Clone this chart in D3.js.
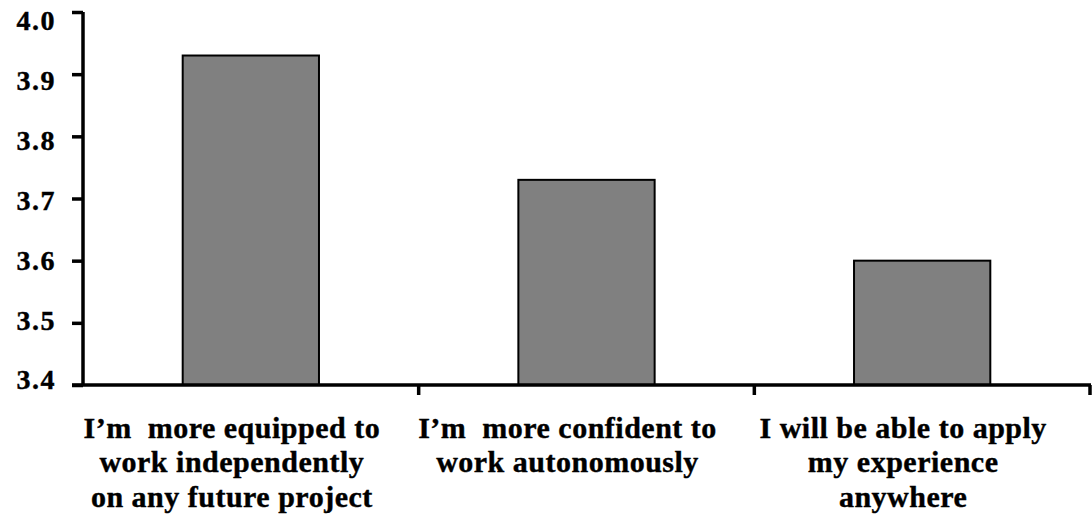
<!DOCTYPE html>
<html>
<head>
<meta charset="utf-8">
<script src="https://cdn.jsdelivr.net/npm/d3@7"></script>
<style>
  html, body { margin: 0; padding: 0; background: #fff; }
  svg { display: block; }
  text { font-family: "Liberation Serif", "Times New Roman", serif; font-weight: bold; fill: #000; }
</style>
</head>
<body>
<svg id="chart" width="1092" height="516"></svg>
<script>
// Survey statements (one per bar), each wrapped onto display lines
const categories = [
  "I’m more equipped to work independently on any future project",
  "I’m more confident to work autonomously",
  "I will be able to apply my experience anywhere"
];
const labelLines = [
  ["I’m  more equipped to", "work independently", "on any future project"],
  ["I’m  more confident to", "work autonomously"],
  ["I will be able to apply", "my experience", "anywhere"]
];
// Mean agreement score per statement
const values = [3.93, 3.73, 3.60];
// Value axis ticks
const yTicks = [3.4, 3.5, 3.6, 3.7, 3.8, 3.9, 4.0];
const yTickLabels = ["3.4", "3.5", "3.6", "3.7", "3.8", "3.9", "4.0"];

const svg = d3.select("#chart");
const plotLeft = 83, plotRight = 1090, plotTop = 12, plotBottom = 385;

const x = d3.scaleBand()
  .domain(categories)
  .range([plotLeft, plotRight])
  .paddingInner(0.594)
  .paddingOuter(0.297);

const y = d3.scaleLinear()
  .domain([3.4, 4.0])
  .range([plotBottom, plotTop]);

// Tick labels sit on a slightly tighter ladder than the tick marks
const yLabel = d3.scaleLinear()
  .domain([3.4, 4.0])
  .range([380, 21]);

// Bars
svg.append("g")
  .selectAll("rect")
  .data(values)
  .join("rect")
  .attr("x", (d, i) => x(categories[i]))
  .attr("y", d => y(d))
  .attr("width", x.bandwidth())
  .attr("height", d => y(3.4) - y(d))
  .attr("fill", "#808080")
  .attr("stroke", "#000")
  .attr("stroke-width", 2);

// Y axis
const yAxis = d3.axisLeft(y)
  .tickValues(yTicks)
  .tickFormat((d, i) => yTickLabels[i])
  .tickSize(11)
  .tickPadding(16);

const gy = svg.append("g")
  .attr("transform", `translate(${plotLeft},0)`)
  .call(yAxis);
gy.select(".domain").attr("stroke", "#000").attr("stroke-width", 3.5)
  .attr("d", `M0,${plotTop}V${plotBottom}`);
gy.selectAll(".tick line").attr("stroke", "#000").attr("stroke-width", 3.5);
gy.selectAll(".tick text")
  .attr("y", d => yLabel(d) - y(d))
  .style("font-family", "'Liberation Serif', 'Times New Roman', serif")
  .style("font-weight", "bold")
  .style("font-size", "28px")
  .style("letter-spacing", "1.5px")
  .attr("fill", "#000")
  .attr("stroke", "#000")
  .attr("stroke-width", 0.4);

// X axis with ticks at category boundaries
const boundaries = categories.map(c => x(c) + x.bandwidth() / 2 + x.step() / 2);
const gx = svg.append("g");
gx.append("line")
  .attr("x1", plotLeft - 11).attr("x2", plotRight + 1)
  .attr("y1", plotBottom).attr("y2", plotBottom)
  .attr("stroke", "#000").attr("stroke-width", 3.5);
gx.selectAll("line.tick")
  .data(boundaries)
  .join("line")
  .attr("class", "tick")
  .attr("x1", d => d).attr("x2", d => d)
  .attr("y1", plotBottom).attr("y2", plotBottom + 10)
  .attr("stroke", "#000").attr("stroke-width", 3.5);

// Category labels
const lineBaselines = [438, 472, 507];
gx.selectAll("text.cat")
  .data(categories)
  .join("text")
  .attr("class", "cat")
  .attr("text-anchor", "middle")
  .style("font-size", "30px")
  .style("letter-spacing", "0.5px")
  .style("white-space", "pre")
  .attr("stroke", "#000")
  .attr("stroke-width", 0.4)
  .each(function(c, i) {
    const cx = x(c) + x.bandwidth() / 2 - 19;
    d3.select(this).selectAll("tspan")
      .data(labelLines[i])
      .join("tspan")
      .attr("x", cx)
      .attr("y", (d, j) => lineBaselines[j])
      .text(d => d);
  });
</script>
</body>
</html>
